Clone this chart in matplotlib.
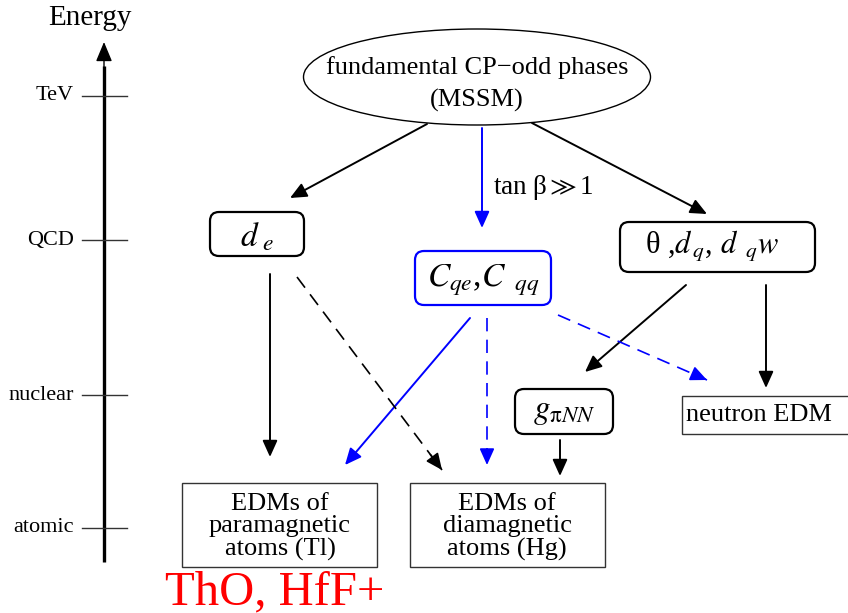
import matplotlib.pyplot as plt
from matplotlib.patches import Ellipse, FancyBboxPatch, Rectangle, FancyArrowPatch

plt.rcParams['font.family'] = ['Liberation Serif', 'DejaVu Serif']
plt.rcParams['mathtext.fontset'] = 'stix'

# energy scale
levels = ["TeV", "QCD", "nuclear", "atomic"]
level_y = [96, 240, 395, 528]

# node labels
top_label = "fundamental CP\u2212odd phases\n(MSSM)"
de_label = r"$d_{\ e}$"
c_label = r"$C_{qe}$,$C_{\ \ qq}$"
theta_label = r"θ ,$d_{\,q}$, $d_{\ \ q}w$"
g_label = r"$g_{\mathrm{\pi}NN}$"
nedm_label = "neutron EDM"
para_label = "EDMs of\nparamagnetic\natoms (Tl)"
dia_label = "EDMs of\ndiamagnetic\natoms (Hg)"
tan_label = r"tan β$\gg$1"
molecules = "ThO, HfF+"

BLUE = "#0000ff"
RED = "#ff0000"

fig = plt.figure(figsize=(8.48, 6.13), dpi=100)
ax = fig.add_axes([0, 0, 1, 1])
ax.set_xlim(0, 848)
ax.set_ylim(613, 0)
ax.axis("off")

# Energy axis
ax.plot([104, 104], [562, 66], color="black", lw=2.4, solid_capstyle="butt")
ax.add_patch(FancyArrowPatch((104, 75), (104, 42), arrowstyle="-|>,head_length=12,head_width=5",
                             color="black", lw=1, mutation_scale=1, shrinkA=0, shrinkB=0))
ax.text(90, 18, "Energy", fontsize=21, ha="center", va="center")
for name, y in zip(levels, level_y):
    ax.plot([82, 127], [y, y], color="#333333", lw=1.0)
    ax.text(74, y, name, fontsize=16, ha="right", va="center")


def rbox(x0, y0, x1, y1, color="black"):
    ax.add_patch(FancyBboxPatch((x0, y0), x1 - x0, y1 - y0,
                                boxstyle="round,pad=0,rounding_size=9",
                                fc="white", ec=color, lw=1.6))


def sbox(x0, y0, x1, y1):
    ax.add_patch(Rectangle((x0, y0), x1 - x0, y1 - y0, fc="white", ec="#333333", lw=1.0))


def arrow(p0, p1, color="black", dashed=False):
    if dashed:
        # dashed shaft, solid head
        ax.plot([p0[0], p1[0]], [p0[1], p1[1]], color=color, lw=1.2, dashes=(8, 5))
        ax.add_patch(FancyArrowPatch((p1[0] - (p1[0] - p0[0]) * 0.08, p1[1] - (p1[1] - p0[1]) * 0.08), p1,
                                     arrowstyle="-|>,head_length=10,head_width=4.5",
                                     color=color, lw=1.2, mutation_scale=1, shrinkA=0, shrinkB=0))
    else:
        ax.add_patch(FancyArrowPatch(p0, p1, arrowstyle="-|>,head_length=10,head_width=4.5",
                                     color=color, lw=1.4, mutation_scale=1, shrinkA=0, shrinkB=0))


# top ellipse
ax.add_patch(Ellipse((477, 77), 347, 96, fc="white", ec="black", lw=1.0))
ax.text(477, 84, top_label, fontsize=19, ha="center", va="center", linespacing=1.55)

# arrows from the top
arrow((427, 124), (290, 198))
arrow((482, 128), (482, 228), color=BLUE)
arrow((532, 123), (707, 214))
ax.text(493, 188, tan_label, fontsize=19.5, ha="left", va="center")

# middle nodes
rbox(210, 212, 304, 256)
ax.text(257, 237, de_label, fontsize=24, ha="center", va="center")
rbox(415, 251, 551, 305, color=BLUE)
ax.text(483, 280, c_label, fontsize=24, ha="center", va="center")
rbox(620, 222, 815, 272)
ax.text(712, 246, theta_label, fontsize=22, ha="center", va="center")

# arrows to lower nodes
arrow((270, 274), (270, 457))
arrow((297, 277), (442, 470), dashed=True)
arrow((470, 318), (345, 465), color=BLUE)
arrow((487, 318), (487, 465), color=BLUE, dashed=True)
arrow((558, 315), (707, 380), color=BLUE, dashed=True)
arrow((686, 285), (585, 372))
arrow((766, 285), (766, 388))
arrow((560, 440), (560, 476))

# lower nodes
rbox(515, 389, 613, 434)
ax.text(564, 412, g_label, fontsize=24, ha="center", va="center")
sbox(682, 396, 850, 434)
ax.text(686, 415, nedm_label, fontsize=19, ha="left", va="center")
sbox(182, 483, 377, 567)
ax.text(280, 527, para_label, fontsize=19, ha="center", va="center", linespacing=1.05)
sbox(410, 483, 605, 567)
ax.text(507, 527, dia_label, fontsize=19, ha="center", va="center", linespacing=1.05)

ax.text(275, 604, molecules, fontsize=35, color=RED, ha="center", va="baseline")

fig.savefig("out.png", dpi=100)
